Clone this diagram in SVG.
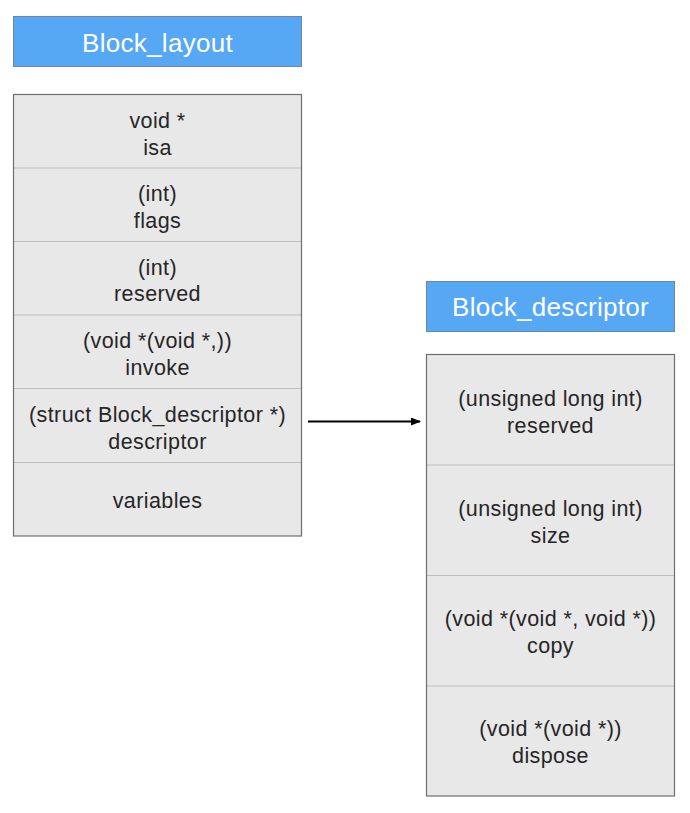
<svg xmlns="http://www.w3.org/2000/svg" width="690" height="813" viewBox="0 0 690 813">
<defs>
<style>
.title{fill:#56a8f4;stroke:#6a87a3;stroke-width:1}
.ttext{font-family:"Liberation Sans",Arial,sans-serif;font-size:26px;letter-spacing:0.3px;fill:#ffffff;text-anchor:middle}
.cell{fill:#e8e8e8}
.frame{fill:none;stroke:#6e6e6e;stroke-width:1.2}
.div{stroke:#bdbdbd;stroke-width:1.2}
.txt{font-family:"Liberation Sans",Arial,sans-serif;font-size:21.5px;letter-spacing:0.4px;fill:#262626;text-anchor:middle}
.conn{stroke:#000000;stroke-width:2;fill:none}
</style>
<marker id="arr" markerWidth="10" markerHeight="8" refX="9" refY="4" orient="auto" markerUnits="userSpaceOnUse">
<path d="M0,0 L10,4 L0,8 z" fill="#000000"/>
</marker>
</defs>
<rect width="690" height="813" fill="#ffffff"/>

<g id="block_layout_title">
<rect class="title" x="13.5" y="16.5" width="288" height="50"/>
<text class="ttext" x="157.5" y="52">Block_layout</text>
</g>

<g id="block_layout">
<rect class="cell" x="13.5" y="94.5" width="288" height="441.5"/>
<line class="div" x1="14" y1="168" x2="301" y2="168"/>
<line class="div" x1="14" y1="241.5" x2="301" y2="241.5"/>
<line class="div" x1="14" y1="315" x2="301" y2="315"/>
<line class="div" x1="14" y1="388.5" x2="301" y2="388.5"/>
<line class="div" x1="14" y1="462.5" x2="301" y2="462.5"/>
<rect class="frame" x="13.5" y="94.5" width="288" height="441.5"/>
<text class="txt" x="157.5" y="127.5">void *</text>
<text class="txt" x="157.5" y="154.5">isa</text>
<text class="txt" x="157.5" y="200.5">(int)</text>
<text class="txt" x="157.5" y="227.5">flags</text>
<text class="txt" x="157.5" y="274.5">(int)</text>
<text class="txt" x="157.5" y="300.5">reserved</text>
<text class="txt" x="157.5" y="347.5">(void *(void *,))</text>
<text class="txt" x="157.5" y="374.5">invoke</text>
<text class="txt" x="157.5" y="421.5">(struct Block_descriptor *)</text>
<text class="txt" x="157.5" y="448.5">descriptor</text>
<text class="txt" x="157.5" y="507.5">variables</text>
</g>

<g id="block_descriptor_title">
<rect class="title" x="426.5" y="281.5" width="248" height="50"/>
<text class="ttext" x="550.5" y="316">Block_descriptor</text>
</g>

<g id="block_descriptor">
<rect class="cell" x="426.5" y="354.5" width="248" height="441.5"/>
<line class="div" x1="427" y1="465" x2="674" y2="465"/>
<line class="div" x1="427" y1="575.5" x2="674" y2="575.5"/>
<line class="div" x1="427" y1="686" x2="674" y2="686"/>
<rect class="frame" x="426.5" y="354.5" width="248" height="441.5"/>
<text class="txt" x="550.5" y="405.5">(unsigned long int)</text>
<text class="txt" x="550.5" y="432.5">reserved</text>
<text class="txt" x="550.5" y="515.5">(unsigned long int)</text>
<text class="txt" x="550.5" y="542.5">size</text>
<text class="txt" x="550.5" y="625.5">(void *(void *, void *))</text>
<text class="txt" x="550.5" y="652.5">copy</text>
<text class="txt" x="550.5" y="735.5">(void *(void *))</text>
<text class="txt" x="550.5" y="762.5">dispose</text>
</g>

<g id="connectors">
<line class="conn" x1="308" y1="421.5" x2="420" y2="421.5" marker-end="url(#arr)"/>
</g>
</svg>
